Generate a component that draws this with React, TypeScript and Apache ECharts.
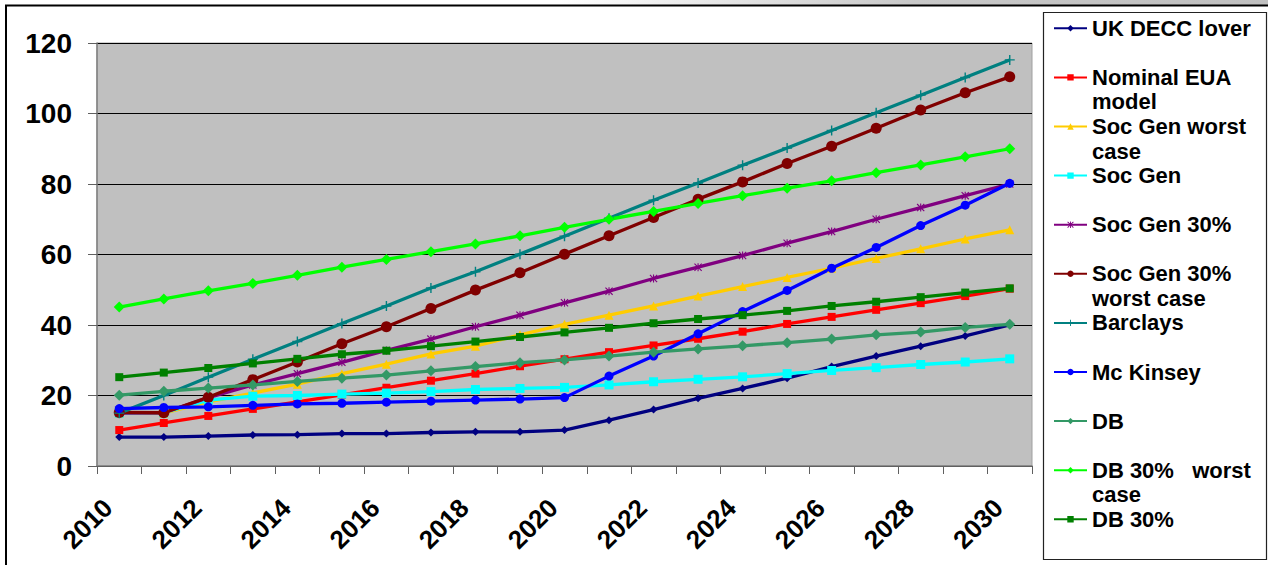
import React, { useEffect, useRef } from 'react';
import * as echarts from 'echarts';

const years = ['2010', '2011', '2012', '2013', '2014', '2015', '2016', '2017', '2018', '2019', '2020',
  '2021', '2022', '2023', '2024', '2025', '2026', '2027', '2028', '2029', '2030'];

const yTicks = { min: 0, max: 120, interval: 20 };

const ukDecc = [8.2, 8.2, 8.5, 8.8, 8.9, 9.2, 9.2, 9.5, 9.7, 9.7, 10.2, 13, 16, 19.2, 22, 24.9, 28.2, 31.2, 34, 36.9, 40];
const nominalEua = [10.2, 12.2, 14.2, 16.2, 18.2, 20.2, 22.2, 24.2, 26.2, 28.3, 30.3, 32.3, 34.2, 36.1, 38.1, 40.3, 42.3, 44.3, 46.2, 48.2, 50.3];
const socGenWorst = [15, 15, 18.2, 20.7, 23.2, 26.2, 28.9, 31.8, 34, 37.2, 40.2, 42.8, 45.4, 48.2, 50.9, 53.5, 56.1, 58.9, 61.6, 64.4, 67];
const socGen = [15, 15.1, 18.7, 19.8, 20, 20.4, 20.7, 21.1, 21.7, 22, 22.3, 23, 23.9, 24.6, 25.3, 26.2, 27.1, 27.9, 28.8, 29.5, 30.4];
const socGen30 = [15, 15.1, 19.4, 23, 26.2, 29.4, 32.8, 36, 39.5, 42.8, 46.3, 49.6, 53.2, 56.4, 59.7, 63.2, 66.5, 70, 73.3, 76.7, 80];
const socGen30Worst = [15.2, 15.1, 19.5, 24.5, 29.5, 34.7, 39.5, 44.7, 49.9, 54.8, 60.1, 65.3, 70.5, 75.7, 80.6, 85.8, 90.7, 95.8, 101, 105.9, 110.4];
const barclays = [15, 20, 25.2, 30.3, 35.3, 40.4, 45.4, 50.5, 55.1, 60.1, 65.2, 70.3, 75.4, 80.3, 85.3, 90.2, 95.2, 100.2, 105.2, 110.2, 115.2];
const mcKinsey = [16.3, 16.6, 16.8, 17.2, 17.6, 17.8, 18.1, 18.4, 18.7, 19, 19.4, 25.5, 31.2, 37.5, 43.8, 49.8, 56.1, 62, 68.2, 74, 80.2];
const db = [20.1, 21.2, 22.1, 23, 24, 24.9, 25.8, 27, 28.2, 29.3, 30.1, 31.2, 32.3, 33.2, 34.1, 35, 36, 37.2, 38, 39.3, 40.2];
const db30Worst = [45.1, 47.4, 49.7, 51.8, 54.1, 56.4, 58.6, 60.8, 63, 65.3, 67.7, 70, 72.2, 74.5, 76.7, 78.8, 80.9, 83.2, 85.4, 87.7, 90];
const db30 = [25.2, 26.5, 27.8, 29.1, 30.4, 31.7, 32.7, 34, 35.3, 36.6, 37.9, 39.2, 40.5, 41.7, 42.8, 44, 45.4, 46.6, 47.9, 49.2, 50.4];

const seriesNames = ['UK DECC lover', 'Nominal EUA model', 'Soc Gen worst case', 'Soc Gen', 'Soc Gen 30%',
  'Soc Gen 30% worst case', 'Barclays', 'Mc Kinsey', 'DB', 'DB 30%   worst case', 'DB 30%'];
const legendLines = [['UK DECC lover'], ['Nominal EUA', 'model'], ['Soc Gen worst', 'case'], ['Soc Gen'], ['Soc Gen 30%'],
  ['Soc Gen 30%', 'worst case'], ['Barclays'], ['Mc Kinsey'], ['DB'], ['DB 30%   worst', 'case'], ['DB 30%']];
const seriesData = [ukDecc, nominalEua, socGenWorst, socGen, socGen30, socGen30Worst, barclays, mcKinsey, db, db30Worst, db30];
const seriesColors = ['#000080', '#FF0000', '#FFCC00', '#00FFFF', '#800080', '#800000', '#008080', '#0000FF', '#339966', '#00FF00', '#008000'];

const ASTERISK = 'path://M1,0L5,4L9,0L10,1L6,5L10,9L9,10L5,6L1,10L0,9L4,5L0,1Z M4.3,0H5.7V10H4.3Z';
const PLUS = 'path://M4.3,0H5.7V4.3H10V5.7H5.7V10H4.3V5.7H0V4.3H4.3Z';
const seriesSymbols = ['diamond', 'rect', 'triangle', 'rect', ASTERISK, 'circle', PLUS, 'circle', 'diamond', 'diamond', 'rect'];
const seriesSymbolSizes = [8, 8, 9, 9, 8, 11, 10, 9, 11, 11, 8];

const FONT = 'Liberation Sans, Arial, Helvetica, sans-serif';

export default function App() {
  const ref = useRef<HTMLDivElement>(null);
  useEffect(() => {
    document.body.style.margin = '0';
    const chart = echarts.init(ref.current!, null, { renderer: 'svg' });
    const LH = 24.5;
    const legends = seriesNames.map((name, i) => {
      const lines = legendLines[i];
      const center = 28.3 + 49.1 * i;
      const n = lines.length === 2 ? 3 : 1;
      return {
        data: [name],
        orient: 'vertical',
        left: 1053,
        top: center - (n * LH) / 2,
        padding: 0,
        itemWidth: 33,
        itemHeight: 8,
        selectedMode: false,
        formatter: () => (lines.length === 2 ? ' \n' + lines.join('\n') : lines[0]),
        textStyle: { fontSize: 22, fontWeight: 'bold', color: '#000', fontFamily: FONT, lineHeight: LH },
      };
    });
    const option = {
      animation: false,
      backgroundColor: '#ffffff',
      textStyle: { fontFamily: FONT },
      graphic: [
        {
          type: 'rect', z: -10, silent: true,
          shape: { x: 560, y: 0, width: 708, height: 5 },
          style: {
            fill: new echarts.graphic.LinearGradient(0, 0, 1, 0, [
              { offset: 0, color: '#ffffff' }, { offset: 0.5, color: '#c8c8c8' }, { offset: 1, color: '#c0c0c0' },
            ]),
          },
        },
        {
          type: 'rect', z: -5, silent: true,
          shape: { x: 6, y: 5.5, width: 1300, height: 600 },
          style: { fill: 'none', stroke: '#000', lineWidth: 2 },
        },
        {
          type: 'rect', z: -4, silent: true,
          shape: { x: 1043.5, y: 12.5, width: 223, height: 547 },
          style: { fill: '#fff', stroke: '#222', lineWidth: 1.2 },
        },
      ],
      legend: legends,
      grid: {
        left: 97, top: 43, right: 236, bottom: 99,
        show: true, backgroundColor: '#c0c0c0', borderColor: '#a0a0a0', borderWidth: 1,
        containLabel: false,
      },
      xAxis: {
        type: 'category',
        data: years,
        boundaryGap: true,
        axisLine: { show: true, lineStyle: { color: '#808080', width: 1.5 } },
        axisTick: { show: true, interval: 0, length: 8, lineStyle: { color: '#606060', width: 1 } },
        axisLabel: {
          interval: 1, rotate: 45, margin: 26, fontSize: 26, fontWeight: 'bold', color: '#000',
          fontFamily: FONT, padding: [0, 16, 0, 0],
        },
        splitLine: { show: false },
      },
      yAxis: {
        type: 'value',
        min: yTicks.min, max: yTicks.max, interval: yTicks.interval,
        axisLine: { show: true, lineStyle: { color: '#808080', width: 1.5 } },
        axisTick: { show: true, length: 9, lineStyle: { color: '#606060', width: 1 } },
        axisLabel: { margin: 25, fontSize: 28, fontWeight: 'bold', color: '#000', fontFamily: FONT },
        splitLine: { show: true, lineStyle: { color: '#000', width: 1 } },
      },
      series: seriesNames.map((name, i) => ({
        name,
        type: 'line',
        data: seriesData[i],
        symbol: seriesSymbols[i],
        symbolSize: seriesSymbolSizes[i],
        showAllSymbol: true,
        lineStyle: { color: seriesColors[i], width: 3.3 },
        itemStyle: { color: seriesColors[i] },
        emphasis: { disabled: true },
      })),
    };
    chart.setOption(option as any);
    return () => chart.dispose();
  }, []);
  return <div ref={ref} style={{ width: 1268, height: 565 }} />;
}
